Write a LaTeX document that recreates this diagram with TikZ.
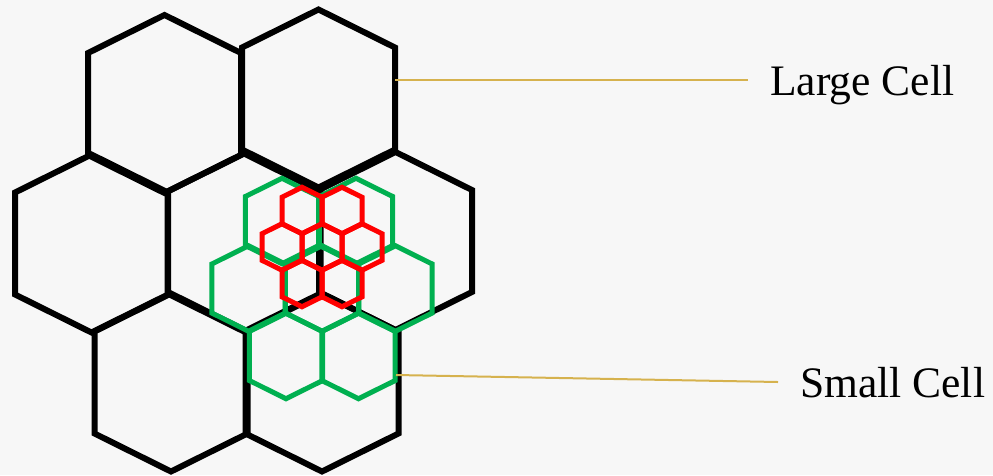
\documentclass[tikz,border=0pt]{standalone}
\usepackage{fontspec}
\setmainfont{Liberation Serif}
\definecolor{bgpaper}{RGB}{247,247,247}
\definecolor{cellgreen}{RGB}{0,176,80}
\definecolor{cellred}{RGB}{255,0,0}
\definecolor{leadergold}{RGB}{214,178,78}
% #1 style, #2 centre x, #3 centre y, #4 scale (large cell = 1)
\newcommand{\cellhex}[4]{%
  \draw[#1] (#2,#3) ++(0,-89*#4) -- ++(76.5*#4,38*#4) -- ++(0,102*#4)
    -- ++(-76.5*#4,38*#4) -- ++(-76.5*#4,-38*#4) -- ++(0,-102*#4) -- cycle;}
\begin{document}
\begin{tikzpicture}[x=1pt,y=-1pt,
  bigcell/.style={draw=black,line width=6pt,line join=miter},
  greencell/.style={draw=cellgreen,line width=5pt,line join=miter},
  redcell/.style={draw=cellred,line width=5pt,line join=miter},
  leader/.style={draw=leadergold,line width=2pt},
  celllabel/.style={font=\fontsize{43.5}{50}\selectfont,inner sep=0pt,anchor=base west}]
\fill[bgpaper] (0,0) rectangle (993,475);
\useasboundingbox (0,0) rectangle (993,475);
% large cells
\cellhex{bigcell}{164.5}{104}{1}
\cellhex{bigcell}{318.5}{98.5}{1}
\cellhex{bigcell}{91.5}{243.5}{1}
\cellhex{bigcell}{244}{242.5}{1}
\cellhex{bigcell}{395.5}{241}{1}
\cellhex{bigcell}{171}{382.5}{1}
\cellhex{bigcell}{322}{382.5}{1}
% green small cells
\cellhex{greencell}{282}{221}{0.48}
\cellhex{greencell}{356}{221}{0.48}
\cellhex{greencell}{248.5}{288.5}{0.48}
\cellhex{greencell}{322}{288.5}{0.48}
\cellhex{greencell}{395.5}{288.5}{0.48}
\cellhex{greencell}{286}{356}{0.48}
\cellhex{greencell}{358.5}{356}{0.48}
% red small cells
\cellhex{redcell}{302}{210.5}{0.2614}
\cellhex{redcell}{342}{210.5}{0.2614}
\cellhex{redcell}{282}{247}{0.2614}
\cellhex{redcell}{322}{247}{0.2614}
\cellhex{redcell}{362}{247}{0.2614}
\cellhex{redcell}{302}{283.5}{0.2614}
\cellhex{redcell}{342}{283.5}{0.2614}
% labels and leaders
\node[celllabel] (largelbl) at (770,95) {Large Cell};
\node[celllabel] (smalllbl) at (800,397) {Small Cell};
\coordinate (largeA) at (395,80);
\coordinate (largeB) at (748,80);
\coordinate (smallA) at (396,375);
\coordinate (smallB) at (778,382);
\draw[leader] (largeA) -- (largeB);
\draw[leader] (smallA) -- (smallB);
\end{tikzpicture}
\end{document}
